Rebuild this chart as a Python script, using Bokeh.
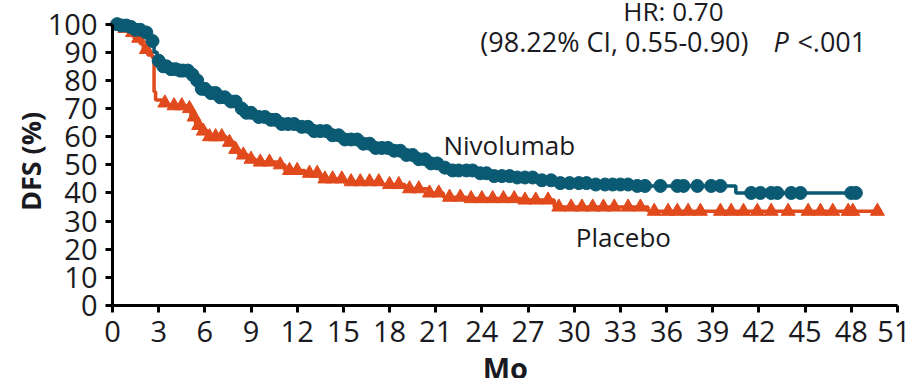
import numpy as np
from bokeh.plotting import figure
from bokeh.models import Label, FixedTicker, Range1d
from bokeh.embed import file_html
from bokeh.resources import INLINE

# ---------------- data ----------------
nivo_t = [0, 0.5, 1.0, 1.5, 2.1, 2.4, 2.7, 2.9, 3.2, 3.7, 4.2, 5.0, 5.3, 5.7, 6.1,
          6.8, 7.5, 8.1, 8.5, 9.3, 10.2, 11.0, 12.2, 13.0, 14.0, 14.8, 16.0, 17.0,
          18.2, 19.0, 19.8, 20.5, 21.2, 22.0, 23.5, 24.8, 26.0, 27.5, 29.0, 31.0,
          34.0, 40.5, 48.3]
nivo_s = [100, 99.5, 99, 98, 97, 94, 90, 87, 85, 84, 83.5, 82, 80, 77, 75.5,
          74, 72.5, 70, 68.5, 67, 66, 64.5, 63.5, 62, 60.5, 59, 57.5, 56,
          55, 53.5, 52, 50.5, 49, 48, 47, 46, 45.5, 44.5, 43.5, 43,
          42.5, 40, 40]
nivo_cens = [0.3, 0.6, 0.9, 1.2, 1.5, 1.8, 2.2, 2.6, 3.0, 3.3, 3.5, 3.8, 4.1, 4.4,
             4.6, 4.9, 5.2, 5.5, 5.8, 6.0, 6.4, 6.7, 7.0, 7.3, 7.7, 8.0, 8.4, 8.7,
             9.0, 9.5, 9.9, 10.3, 10.6, 11.0, 11.4, 11.8, 12.3, 12.7, 13.1, 13.5,
             13.9, 14.3, 14.7, 15.1, 15.5, 15.9, 16.3, 16.7, 17.1, 17.5, 17.9, 18.3,
             18.7, 19.1, 19.5, 19.9, 20.3, 20.7, 21.1, 21.6, 22.1, 22.5, 23.0, 23.4,
             23.9, 24.3, 24.8, 25.3, 25.8, 26.3, 26.8, 27.3, 27.9, 28.5, 29.1, 29.7,
             30.3, 30.8, 31.4, 32.0, 32.5, 33.0, 33.5, 34.1, 34.6, 35.6, 36.7, 37.1,
             38.0, 38.9, 39.5, 41.5, 42.1, 42.8, 43.2, 44.1, 44.7, 48.0, 48.3]

plac_t = [0, 0.6, 1.0, 1.4, 1.8, 2.0, 2.3, 2.6, 2.7, 2.8, 3.2, 3.6, 4.8, 5.1, 5.4,
          5.7, 6.2, 7.4, 7.9, 8.2, 8.8, 9.3, 10.8, 11.2, 12.5, 13.5, 15.0, 17.5,
          19.0, 20.5, 21.5, 23.0, 26.5, 28.7, 34.8, 50.0]
plac_s = [100, 98.5, 97, 95, 93, 91, 89, 88, 76, 73, 72, 71, 70, 67, 64,
          62, 60, 58, 55.5, 53.5, 52, 51, 50, 48, 47, 45, 44, 43,
          41.5, 40, 38.5, 38, 37.5, 35, 33.5, 33.5]
plac_cens = [0.8, 1.3, 1.7, 2.2, 3.4, 4.0, 4.5, 5.0, 5.3, 5.6, 5.9, 6.3, 6.7, 7.1,
             7.6, 8.0, 8.5, 9.0, 9.6, 10.2, 10.9, 11.5, 12.0, 12.8, 13.3, 13.8,
             14.3, 14.9, 15.5, 16.1, 16.7, 17.3, 18.0, 18.6, 19.3, 19.9, 20.6, 21.2,
             21.9, 22.6, 23.3, 24.0, 24.7, 25.4, 26.1, 26.8, 27.5, 28.3, 29.0, 29.8,
             30.5, 31.2, 31.9, 32.6, 33.5, 34.3, 35.2, 36.1, 36.7, 37.4, 38.2, 39.5,
             40.2, 41.0, 41.9, 42.8, 43.9, 45.2, 46.0, 46.8, 47.8, 48.1, 49.7]

x_ticks = [0, 3, 6, 9, 12, 15, 18, 21, 24, 27, 30, 33, 36, 39, 42, 45, 48, 51]
y_ticks = [0, 10, 20, 30, 40, 50, 60, 70, 80, 90, 100]

BLUE = "#0b5a73"
ORANGE = "#e14a1c"
TXT = "#1a1a22"
FONT = "Open Sans"


def step_value(times, surv, at):
    idx = np.searchsorted(np.asarray(times), np.asarray(at), side="right") - 1
    return np.asarray(surv)[idx]


# the frame fills the whole canvas; axes are pinned at 0 so that all texts
# (which are clipped to the frame) stay visible
p = figure(width=910, height=378,
           x_range=Range1d(-7.277, 51.85), y_range=Range1d(-25.94, 108.4),
           output_backend="svg", toolbar_location=None,
           min_border_left=0, min_border_right=0, min_border_top=0,
           min_border_bottom=0)
p.outline_line_color = None
p.grid.visible = False
p.background_fill_color = "white"
p.border_fill_color = "white"

# placebo first, nivolumab on top
p.step(plac_t, plac_s, mode="after", line_color=ORANGE, line_width=3.5)
p.scatter(plac_cens, step_value(plac_t, plac_s, plac_cens), marker="triangle",
          size=14, fill_color=ORANGE, line_color=ORANGE)
p.step(nivo_t, nivo_s, mode="after", line_color=BLUE, line_width=3.5)
p.scatter(nivo_cens, step_value(nivo_t, nivo_s, nivo_cens), marker="circle",
          size=13, fill_color=BLUE, line_color=BLUE)

for ax, ticks in ((p.xaxis, x_ticks), (p.yaxis, y_ticks)):
    ax.ticker = FixedTicker(ticks=ticks)
    ax.fixed_location = 0
    ax.bounds = (ticks[0], ticks[-1] + (2 if ax is p.yaxis else 0))
    ax.axis_line_width = 3
    ax.axis_line_color = "black"
    ax.major_tick_line_width = 3
    ax.major_tick_line_color = "black"
    ax.major_tick_out = 7
    ax.major_tick_in = 0
    ax.minor_tick_line_color = None
    ax.major_label_text_font = FONT
    ax.major_label_text_font_size = "29px"
    ax.major_label_text_color = TXT
p.xaxis.major_label_standoff = 8
p.yaxis.major_label_standoff = 8


def lab(x, y, text, size="26px", align="left", style="normal",
        baseline="alphabetic", angle=0.0):
    p.add_layout(Label(x=x, y=y, text=text, text_font=FONT, text_font_size=size,
                       text_color=TXT, text_align=align, text_baseline=baseline,
                       text_font_style=style, angle=angle))


lab(36.45, 104.8, "HR: 0.70", align="center")
lab(23.9, 94.0, "(98.22% CI, 0.55-0.90)", size="27px")
lab(42.95, 94.0, "P", size="27px", style="italic")
lab(44.5, 94.0, "<.001", size="27px")
lab(21.5, 56.9, "Nivolumab")
lab(30.1, 24.5, "Placebo")
# axis titles
lab(25.53, -22.0, "Mo", size="29px", align="center", style="bold")
lab(-5.33, 51.2, "DFS (%)", size="27px", align="center", style="bold",
    baseline="middle", angle=np.pi / 2)

open("out.html", "w").write(file_html(p, INLINE))
